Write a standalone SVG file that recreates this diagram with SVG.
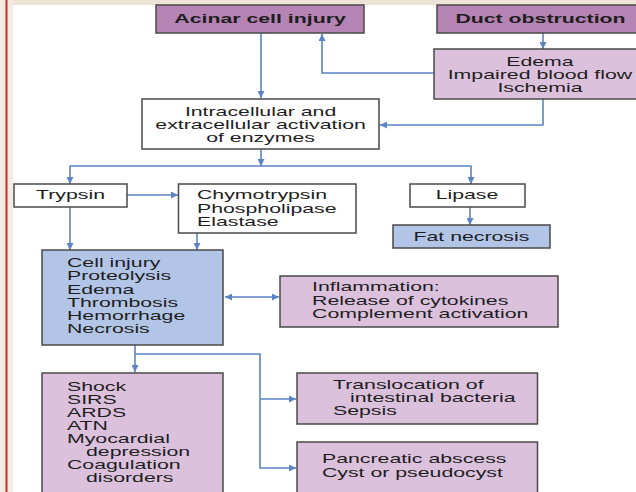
<svg xmlns="http://www.w3.org/2000/svg" width="636" height="492" viewBox="0 0 636 492">
<style>
.bg{fill:#ffffff}
.box{stroke:#4a4a4a;stroke-width:1.5}
.dark{fill:#b583b4}
.light{fill:#dcc1dc}
.blue{fill:#b3c5e7}
.white{fill:#ffffff}
.t{font-family:"Liberation Sans",Arial,sans-serif;font-size:12px;fill:#1e1e1e}
.b{font-weight:bold}
.c{text-anchor:middle}
.ln{fill:none;stroke:#5b84c4;stroke-width:1.6}
</style>
<defs>
<marker id="ah" viewBox="0 0 10 10" refX="10" refY="5" markerWidth="7" markerHeight="7" markerUnits="userSpaceOnUse" orient="auto-start-reverse">
<path d="M0,0 L10,5 L0,10 z" fill="#5b84c4"/>
</marker>
</defs>
<rect class="bg" x="0" y="0" width="636" height="492"/>
<rect x="0" y="0" width="636" height="5" fill="#ede3d6"/>
<rect x="0" y="0" width="13" height="492" fill="#f3ece3"/>
<rect x="5.5" y="0" width="2" height="492" fill="#d8262a"/>

<g id="connectors">
<path class="ln" d="M261 33 V98" marker-end="url(#ah)"/>
<path class="ln" d="M434 73 H322 V34" marker-end="url(#ah)"/>
<path class="ln" d="M543 33 V49" marker-end="url(#ah)"/>
<path class="ln" d="M543 99 V125 H380" marker-end="url(#ah)"/>
<path class="ln" d="M261 149 V166" marker-end="url(#ah)"/>
<path class="ln" d="M70 184 V166 H471 V184" marker-end="url(#ah)" marker-start="url(#ah)"/>
<path class="ln" d="M127 195 H178" marker-end="url(#ah)"/>
<path class="ln" d="M70 207 V250" marker-end="url(#ah)"/>
<path class="ln" d="M197 233 V250" marker-end="url(#ah)"/>
<path class="ln" d="M470 207 V225" marker-end="url(#ah)"/>
<path class="ln" d="M225 297 H279" marker-end="url(#ah)" marker-start="url(#ah)"/>
<path class="ln" d="M135 345 V372" marker-end="url(#ah)"/>
<path class="ln" d="M135 354 H260 V468 H296" marker-end="url(#ah)"/>
<path class="ln" d="M260 399 H296" marker-end="url(#ah)"/>
</g>

<g id="acinar">
<rect class="box dark" x="156" y="5" width="208" height="28"/>
<g transform="scale(1.775 1)"><text class="t b c" x="146.5" y="23.5">Acinar cell injury</text></g>
</g>

<g id="duct">
<rect class="box dark" x="437" y="5" width="210" height="28"/>
<g transform="scale(1.775 1)"><text class="t b c" x="304.5" y="23.5">Duct obstruction</text></g>
</g>

<g id="edema">
<rect class="box light" x="434" y="49" width="212" height="50"/>
<g transform="scale(1.775 1)">
<text class="t c" x="304.2" y="66.5">Edema</text>
<text class="t c" x="304.2" y="79.5">Impaired blood flow</text>
<text class="t c" x="304.2" y="92.5">Ischemia</text>
</g>
</g>

<g id="activation">
<rect class="box white" x="142" y="99" width="237" height="50"/>
<g transform="scale(1.775 1)">
<text class="t c" x="146.8" y="116.5">Intracellular and</text>
<text class="t c" x="146.8" y="129.5">extracellular activation</text>
<text class="t c" x="146.8" y="142.5">of enzymes</text>
</g>
</g>

<g id="trypsin">
<rect class="box white" x="14" y="184" width="113" height="23"/>
<g transform="scale(1.775 1)"><text class="t" x="20.3" y="199.5">Trypsin</text></g>
</g>

<g id="chymotrypsin">
<rect class="box white" x="178.5" y="184" width="177.5" height="49"/>
<g transform="scale(1.775 1)">
<text class="t" x="111" y="199.5">Chymotrypsin</text>
<text class="t" x="111" y="213">Phospholipase</text>
<text class="t" x="111" y="226.5">Elastase</text>
</g>
</g>

<g id="lipase">
<rect class="box white" x="410" y="184" width="115" height="23"/>
<g transform="scale(1.775 1)"><text class="t c" x="263.1" y="199.5">Lipase</text></g>
</g>

<g id="fat-necrosis">
<rect class="box blue" x="393" y="225" width="157" height="23"/>
<g transform="scale(1.775 1)"><text class="t c" x="265.6" y="241">Fat necrosis</text></g>
</g>

<g id="cell-injury">
<rect class="box blue" x="42" y="250" width="181" height="95"/>
<g transform="scale(1.775 1)">
<text class="t" x="37.75" y="267.3">Cell injury</text>
<text class="t" x="37.75" y="280.5">Proteolysis</text>
<text class="t" x="37.75" y="293.7">Edema</text>
<text class="t" x="37.75" y="306.9">Thrombosis</text>
<text class="t" x="37.75" y="320.1">Hemorrhage</text>
<text class="t" x="37.75" y="333.3">Necrosis</text>
</g>
</g>

<g id="inflammation">
<rect class="box light" x="280" y="276" width="278" height="51"/>
<g transform="scale(1.775 1)">
<text class="t" x="175.8" y="291.3">Inflammation:</text>
<text class="t" x="175.8" y="305">Release of cytokines</text>
<text class="t" x="175.8" y="318.5">Complement activation</text>
</g>
</g>

<g id="systemic">
<rect class="box light" x="42" y="373" width="181" height="130"/>
<g transform="scale(1.775 1)">
<text class="t" x="37.75" y="391.3">Shock</text>
<text class="t" x="37.75" y="404.3">SIRS</text>
<text class="t" x="37.75" y="417.3">ARDS</text>
<text class="t" x="37.75" y="430.3">ATN</text>
<text class="t" x="37.75" y="443.3">Myocardial</text>
<text class="t" x="48.45" y="456.3">depression</text>
<text class="t" x="37.75" y="469.3">Coagulation</text>
<text class="t" x="48.45" y="482.3">disorders</text>
</g>
</g>

<g id="translocation">
<rect class="box light" x="297" y="373" width="240.5" height="51"/>
<g transform="scale(1.775 1)">
<text class="t" x="187.6" y="389.3">Translocation of</text>
<text class="t" x="197.2" y="402.3">intestinal bacteria</text>
<text class="t" x="187.6" y="415.3">Sepsis</text>
</g>
</g>

<g id="abscess">
<rect class="box light" x="297" y="442" width="240.5" height="60"/>
<g transform="scale(1.775 1)">
<text class="t" x="181.4" y="463.3">Pancreatic abscess</text>
<text class="t" x="181.4" y="477.3">Cyst or pseudocyst</text>
</g>
</g>
</svg>
